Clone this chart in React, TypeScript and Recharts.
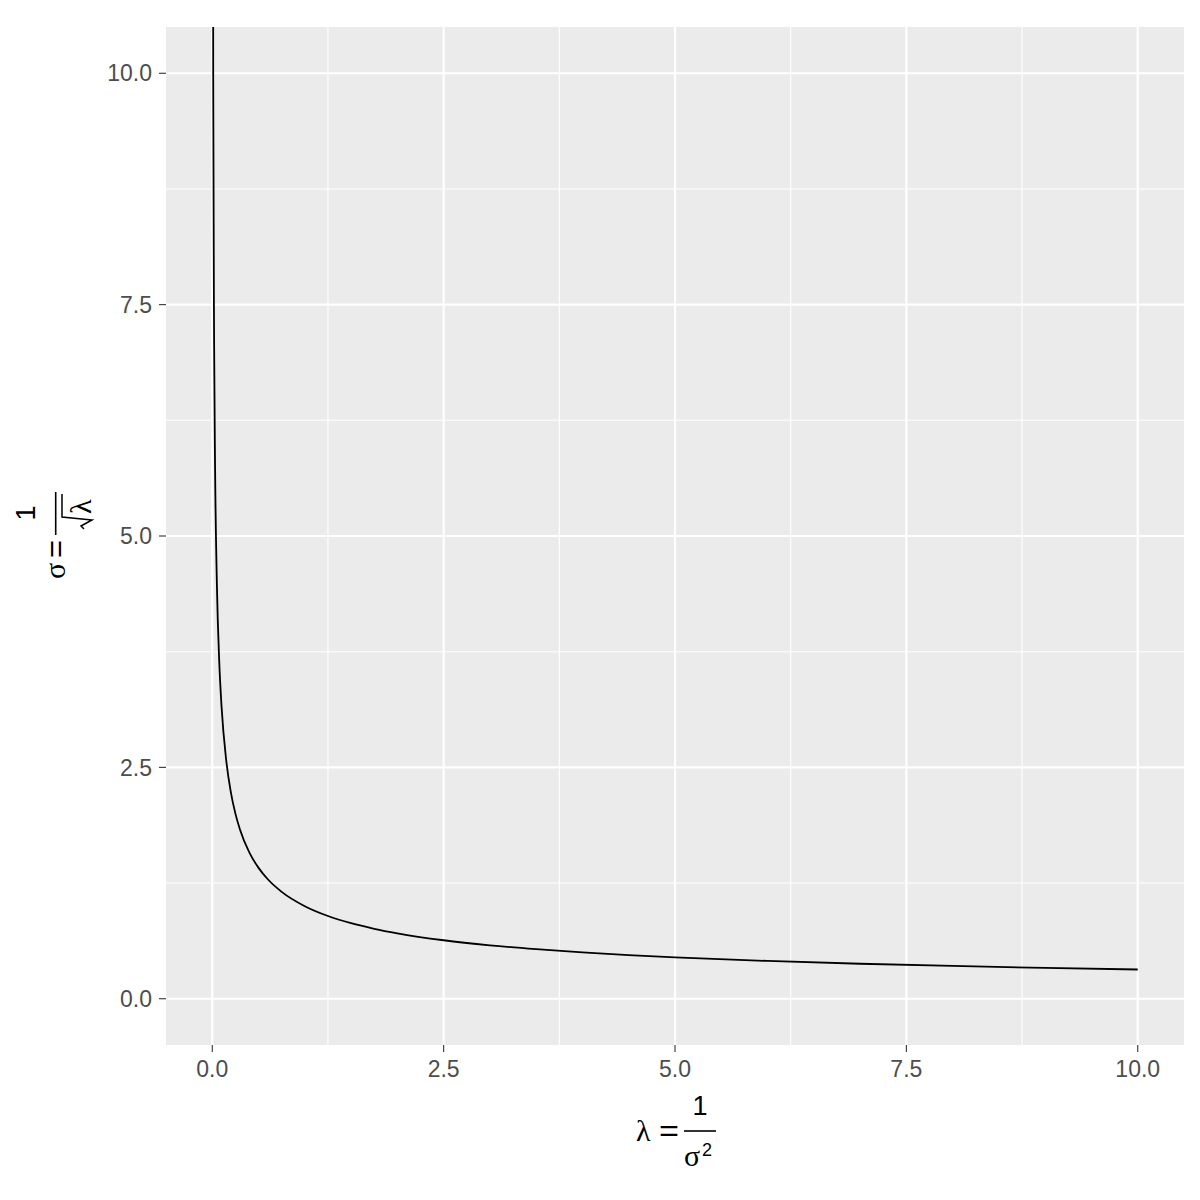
import React from 'react';
import { LineChart, Line, XAxis, YAxis, CartesianGrid } from 'recharts';

// Curve values (lambda, sigma)
const lambdaValues = [0.001, 0.01, 0.02, 0.03, 0.05, 0.075, 0.1, 0.15, 0.2, 0.25, 0.3, 0.4, 0.5, 0.6, 0.75, 1, 1.25, 1.5, 1.75, 2, 2.5, 3, 3.5, 4, 4.5, 5, 6, 7, 8, 9, 10];
const sigmaValues = [31.62, 10, 7.071, 5.774, 4.472, 3.651, 3.162, 2.582, 2.236, 2.0, 1.826, 1.581, 1.414, 1.291, 1.155, 1.0, 0.894, 0.816, 0.756, 0.707, 0.632, 0.577, 0.535, 0.5, 0.471, 0.447, 0.408, 0.378, 0.354, 0.333, 0.316];

const majorBreaks = [0, 2.5, 5, 7.5, 10];
const tickLabels = ['0.0', '2.5', '5.0', '7.5', '10.0'];
const minorBreaks = [1.25, 3.75, 6.25, 8.75];

const data = lambdaValues.map((l, i) => ({ lambda: l, sigma: sigmaValues[i] }));

const SANS = '"Liberation Sans", Arial, sans-serif';
const SERIF = '"Liberation Serif", "Times New Roman", serif';

const fmt = (v: number) => {
  const i = majorBreaks.indexOf(v);
  return i >= 0 ? tickLabels[i] : String(v);
};

const tickStyle = { fill: '#4D4D4D', fontSize: 23, fontFamily: SANS };
const tickLineStyle = { stroke: '#333333', strokeWidth: 1.1 };

export default function App() {
  return (
    <div style={{ position: 'absolute', left: 0, top: 0, width: 1200, height: 1200, background: '#FFFFFF' }}>
      <LineChart width={1200} height={1200} data={data} margin={{ top: 27, right: 16, bottom: 0, left: 0 }}>
        <CartesianGrid
          fill="#EBEBEB"
          stroke="#FFFFFF"
          strokeWidth={1.1}
          verticalValues={minorBreaks}
          horizontalValues={minorBreaks}
        />
        <CartesianGrid
          fill="none"
          stroke="#FFFFFF"
          strokeWidth={2.2}
          verticalValues={majorBreaks}
          horizontalValues={majorBreaks}
        />
        <XAxis
          dataKey="lambda"
          type="number"
          domain={[-0.5, 10.5]}
          allowDataOverflow
          ticks={majorBreaks}
          tickFormatter={fmt}
          height={155}
          axisLine={false}
          tickSize={7}
          tickMargin={9}
          tick={tickStyle}
          tickLine={tickLineStyle}
          interval={0}
        />
        <YAxis
          type="number"
          domain={[-0.5, 10.5]}
          allowDataOverflow
          ticks={majorBreaks}
          tickFormatter={fmt}
          width={166}
          axisLine={false}
          tickSize={7}
          tickMargin={7}
          tick={tickStyle}
          tickLine={tickLineStyle}
          interval={0}
        />
        <Line
          dataKey="sigma"
          type="monotone"
          stroke="#000000"
          strokeWidth={1.8}
          dot={false}
          activeDot={false}
          isAnimationActive={false}
        />
      </LineChart>
      <svg
        width={1200}
        height={1200}
        style={{ position: 'absolute', left: 0, top: 0, pointerEvents: 'none' }}
      >
        {/* x title: lambda = 1 / sigma^2 */}
        <g fill="#000000">
          <text x={636} y={1141} fontFamily={SERIF} fontSize={30}>λ</text>
          <text x={659} y={1141} fontFamily={SANS} fontSize={30} textLength={20} lengthAdjust="spacingAndGlyphs">=</text>
          <line x1={684} x2={716} y1={1131} y2={1131} stroke="#000000" strokeWidth={1.6} />
          <text x={700} y={1115} fontFamily={SANS} fontSize={27} textAnchor="middle">1</text>
          <text x={684} y={1166} fontFamily={SERIF} fontSize={30}>σ</text>
          <text x={702} y={1156} fontFamily={SANS} fontSize={18}>2</text>
        </g>
        {/* y title: sigma = 1 / sqrt(lambda) */}
        <g fill="#000000" transform="rotate(-90)">
          <text x={-579} y={65} fontFamily={SERIF} fontSize={30}>σ</text>
          <text x={-558} y={66} fontFamily={SANS} fontSize={30} textLength={18} lengthAdjust="spacingAndGlyphs">=</text>
          <line x1={-535} x2={-492} y1={55.7} y2={55.7} stroke="#000000" strokeWidth={1.6} />
          <text x={-513} y={35} fontFamily={SANS} fontSize={27} textAnchor="middle">1</text>
          <path d="M -529 84 L -526 81 L -520 92 L -517 62 L -494 62" fill="none" stroke="#000000" strokeWidth={1.5} />
          <text x={-514} y={91} fontFamily={SERIF} fontSize={30}>λ</text>
        </g>
      </svg>
    </div>
  );
}
